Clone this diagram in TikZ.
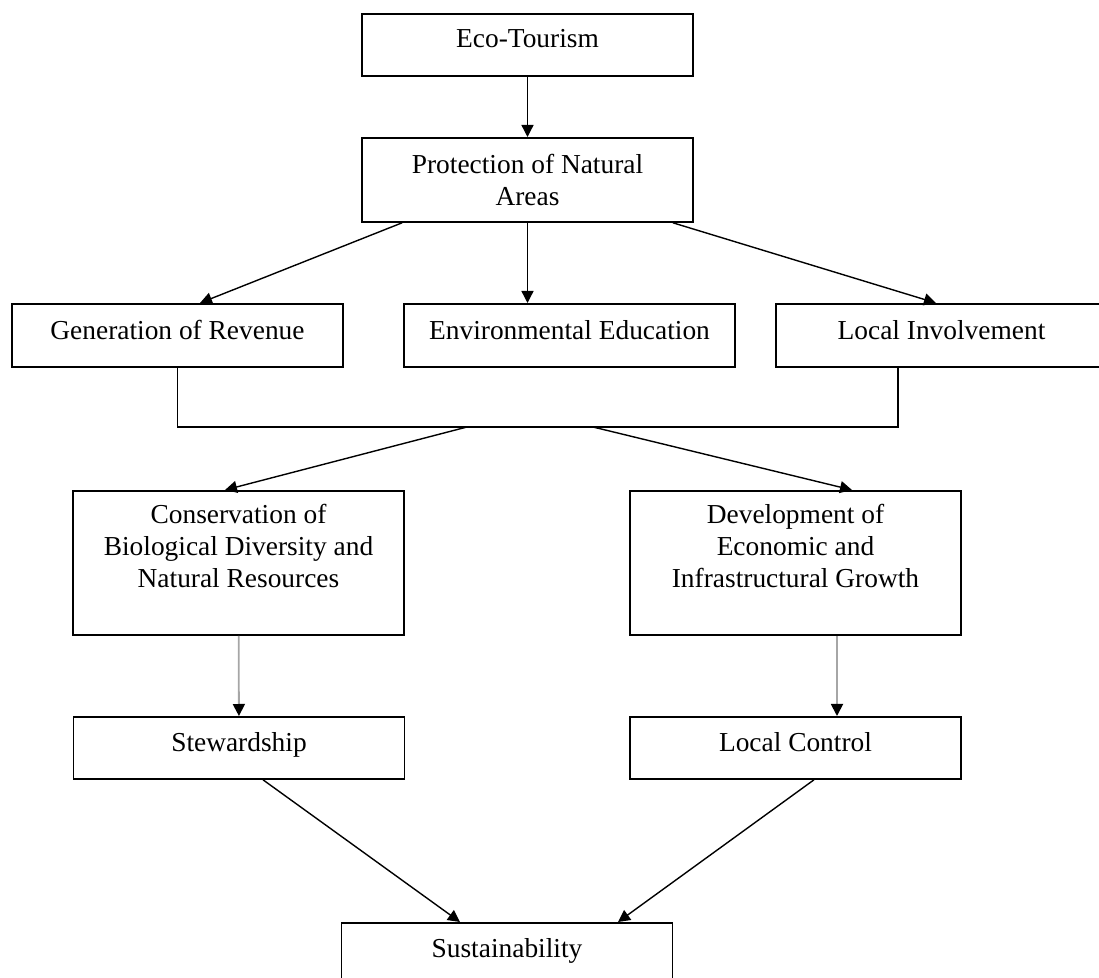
\documentclass[tikz,border=0pt]{standalone}
\usepackage{fontspec}
\setmainfont{Liberation Serif}
\usetikzlibrary{arrows.meta}

\tikzset{
  box/.style={draw, line width=0.9pt, minimum width=165.5pt, inner sep=0pt, anchor=north},
  lbl/.style={anchor=north, align=center, inner sep=0pt, font=\fontsize{13.7pt}{16pt}\selectfont},
  arr/.style={line width=0.7pt, -{Triangle[length=6pt,width=6pt]}},
  garr/.style={line width=0.9pt, draw=black!35, -{Triangle[length=6pt,width=6pt,color=black]}}
}

\begin{document}
\begin{tikzpicture}[x=0.5pt,y=-0.5pt]
                \pgfmathsetmacro{\jy}{427}
                \pgfmathsetmacro{\jlx}{177.5}
                \pgfmathsetmacro{\jrx}{898}

                \useasboundingbox (0,0) rectangle (1099,978);

		\node[box, minimum height=31pt] (eco) at (527.5,13) {};
		\node[box, minimum height=42pt] (prot) at (527.5,137) {};
		\node[box, minimum height=31.5pt] (gen) at (177.5,303) {};
		\node[box, minimum height=31.5pt] (env) at (569.5,303) {};
		\node[box, minimum height=31.5pt] (li) at (941.5,303) {};
		\node[box, minimum height=72pt] (cons) at (238.5,490) {};
		\node[box, minimum height=72pt] (dev) at (795.5,490) {};
		\node[box, minimum height=31pt] (stew) at (239,716) {};
		\node[box, minimum height=31pt] (lc) at (795.5,716) {};
		\node[box, minimum height=31pt] (sus) at (507,922) {};

		\node[lbl] (eco-t) at ([yshift=-8pt]eco.north) {Eco-Tourism};
		\node[lbl] (prot-t) at ([yshift=-8.5pt]prot.north) {Protection of Natural\\Areas};
		\node[lbl] (gen-t) at ([yshift=-8.5pt]gen.north) {Generation of Revenue};
		\node[lbl] (env-t) at ([yshift=-8.5pt]env.north) {Environmental Education};
		\node[lbl] (li-t) at ([yshift=-8.5pt]li.north) {Local Involvement};
		\node[lbl] (cons-t) at ([yshift=-7pt]cons.north) {Conservation of\\Biological Diversity and\\Natural Resources};
		\node[lbl] (dev-t) at ([yshift=-7pt]dev.north) {Development of\\Economic and\\Infrastructural Growth};
		\node[lbl] (stew-t) at ([yshift=-8pt]stew.north) {Stewardship};
		\node[lbl] (lc-t) at ([yshift=-8pt]lc.north) {Local Control};
		\node[lbl] (sus-t) at ([yshift=-8pt]sus.north) {Sustainability};

		\coordinate (jl) at (\jlx,\jy);
		\coordinate (jr) at (\jrx,\jy);
		\coordinate (jc1) at (467,\jy);
		\coordinate (jc2) at (593,\jy);

		\draw[arr] (eco) -- (prot);
		\draw[arr] ([xshift=20.5pt]prot.south west) -- ([xshift=11.25pt]gen.north);
		\draw[arr] (prot.south) -- (prot.south |- env.north);
		\draw[arr] ([xshift=-10.5pt]prot.south east) -- ([xshift=-2.75pt]li.north);
		\draw[line width=0.9pt] (gen.south) -- (jl) -- (jr) -- (jr |- li.south);
		\draw[arr] (jc1) -- ([xshift=-6.75pt]cons.north);
		\draw[arr] (jc2) -- ([xshift=28.25pt]dev.north);
		\draw[garr] (cons) -- (stew);
		\draw[garr] ([xshift=20.75pt]dev.south) -- ([xshift=20.75pt]lc.north);
		\draw[arr] ([xshift=12pt]stew.south) -- ([xshift=-23.5pt]sus.north);
		\draw[arr] ([xshift=9.25pt]lc.south) -- ([xshift=55.5pt]sus.north);

        \end{tikzpicture}
\end{document}
